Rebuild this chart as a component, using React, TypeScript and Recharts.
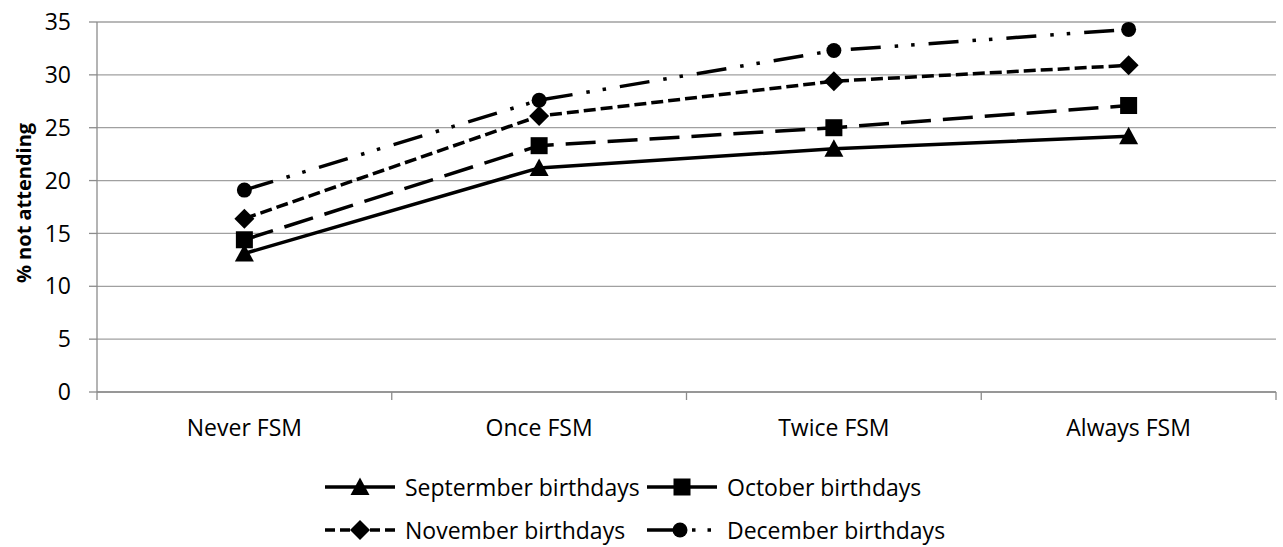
import React from 'react';
import { LineChart, Line, XAxis, YAxis, CartesianGrid, Label } from 'recharts';

const categories = ['Never FSM', 'Once FSM', 'Twice FSM', 'Always FSM'];
const september = [13.1, 21.2, 23.0, 24.2];
const october = [14.4, 23.3, 25.0, 27.1];
const november = [16.4, 26.1, 29.4, 30.9];
const december = [19.1, 27.6, 32.3, 34.3];
const yTicks = [0, 5, 10, 15, 20, 25, 30, 35];
const seriesNames = ['Septermber birthdays', 'October birthdays', 'November birthdays', 'December birthdays'];

const boundaryTicks = [0, ...categories.map((_, i) => i + 1)];
const centerTicks = categories.map((_, i) => i + 0.5);

const data = categories.map((c, i) => ({
  pos: i + 0.5,
  cat: c,
  sep: september[i],
  oct: october[i],
  nov: november[i],
  dec: december[i],
}));

const INK = '#000';
const SW = 3.5;
const dashes: Record<string, string | undefined> = {
  sep: undefined,
  oct: '30 12',
  nov: '12 5',
  dec: '30 14 3.5 13 3.5 14',
};

const TriangleMark = ({ cx, cy }: { cx: number; cy: number }) => (
  <polygon points={`${cx},${cy - 9.5} ${cx + 9.5},${cy + 8} ${cx - 9.5},${cy + 8}`} fill={INK} />
);
const SquareMark = ({ cx, cy }: { cx: number; cy: number }) => (
  <rect x={cx - 8.5} y={cy - 8.5} width={17} height={17} fill={INK} />
);
const DiamondMark = ({ cx, cy }: { cx: number; cy: number }) => (
  <polygon points={`${cx},${cy - 10} ${cx + 10},${cy} ${cx},${cy + 10} ${cx - 10},${cy}`} fill={INK} />
);
const CircleMark = ({ cx, cy }: { cx: number; cy: number }) => (
  <circle cx={cx} cy={cy} r={7.5} fill={INK} />
);

const markers: Record<string, React.FC<{ cx: number; cy: number }>> = {
  sep: TriangleMark,
  oct: SquareMark,
  nov: DiamondMark,
  dec: CircleMark,
};

const keys = ['sep', 'oct', 'nov', 'dec'];

const makeDot = (k: string) => (props: any) => {
  const M = markers[k];
  if (props.cx == null || props.cy == null) return <g key={`${k}-${props.index}`} />;
  return (
    <g key={`${k}-${props.index}`}>
      <M cx={props.cx} cy={props.cy} />
    </g>
  );
};

const legendDashes: Record<string, string | undefined> = {
  sep: undefined,
  oct: undefined,
  nov: '10 5',
  dec: '33 12 3.5 12 3.5 20',
};

const LegendIcon = ({ k }: { k: string }) => {
  const M = markers[k];
  return (
    <svg width={70} height={24} style={{ display: 'block' }}>
      <line x1={0} y1={12} x2={70} y2={12} stroke={INK} strokeWidth={SW} strokeDasharray={legendDashes[k]} />
      <M cx={k === 'dec' ? 33 : 35} cy={12} />
    </svg>
  );
};

const LegendItem = ({ k, name }: { k: string; name: string }) => (
  <div style={{ display: 'flex', alignItems: 'center', height: 43 }}>
    <LegendIcon k={k} />
    <span style={{ marginLeft: 10, fontSize: 23, color: '#000', whiteSpace: 'nowrap' }}>{name}</span>
  </div>
);

const YLabel = (props: any) => {
  const vb = props.viewBox || { x: 0, y: 0, width: 0, height: 0 };
  const cx = vb.x + 23;
  const cy = vb.y + vb.height / 2 - 4;
  return (
    <text
      x={cx}
      y={cy}
      transform={`rotate(-90 ${cx} ${cy})`}
      textAnchor="middle"
      dominantBaseline="central"
      fontSize={20}
      fontWeight="bold"
      fill="#000"
    >
      % not attending
    </text>
  );
};

export default function App() {
  return (
    <div style={{ position: 'absolute', left: 0, top: 0, width: 1283, height: 547, fontFamily: '"Open Sans", sans-serif', background: '#fff' }}>
      <LineChart width={1283} height={460} data={data} margin={{ top: 22, right: 7, left: 0, bottom: 0 }}>
        <CartesianGrid vertical={false} stroke="#a0a0a0" strokeWidth={1.3} />
        <XAxis
          xAxisId="b"
          dataKey="pos"
          type="number"
          domain={[0, 4]}
          ticks={boundaryTicks}
          tickFormatter={() => ''}
          tickSize={8}
          height={8}
          stroke="#8c8c8c"
          strokeWidth={1.3}
          interval={0}
        />
        <XAxis
          xAxisId="lab"
          dataKey="pos"
          type="number"
          domain={[0, 4]}
          ticks={centerTicks}
          tickFormatter={(v: number) => categories[Math.floor(v)]}
          axisLine={false}
          tickLine={false}
          tickSize={0}
          tickMargin={20}
          height={60}
          interval={0}
          tick={{ fill: '#000', fontSize: 23 }}
        />
        <YAxis
          domain={[0, 35]}
          ticks={yTicks}
          width={97}
          tickSize={8}
          tickMargin={18}
          stroke="#8c8c8c"
          strokeWidth={1.3}
          interval={0}
          tick={{ fill: '#000', fontSize: 23 }}
        >
          <Label content={YLabel} />
        </YAxis>
        {keys.map((k) => (
          <Line
            key={k}
            xAxisId="b"
            dataKey={k}
            name={seriesNames[keys.indexOf(k)]}
            type="linear"
            stroke={INK}
            strokeWidth={SW}
            strokeDasharray={dashes[k]}
            dot={makeDot(k)}
            activeDot={false}
            isAnimationActive={false}
          />
        ))}
      </LineChart>
      <div
        style={{
          position: 'absolute',
          left: 325,
          top: 465,
          display: 'grid',
          gridTemplateColumns: '322px auto',
        }}
      >
        {keys.map((k, i) => (
          <LegendItem key={k} k={k} name={seriesNames[i]} />
        ))}
      </div>
    </div>
  );
}
